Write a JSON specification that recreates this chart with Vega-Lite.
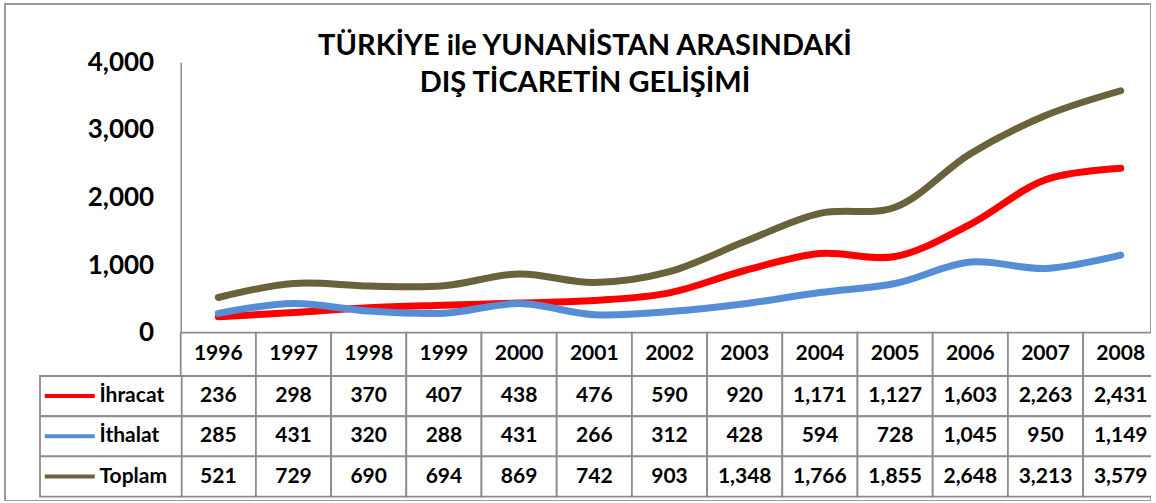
{
  "$schema": "https://vega.github.io/schema/vega-lite/v6.json",
  "autosize": "none",
  "padding": {"left": 5, "top": 4, "right": 0, "bottom": 0},
  "width": 1146,
  "height": 497,
  "background": "white",
  "config": {
    "view": {"stroke": "#9a9a9a", "strokeWidth": 2},
    "font": "Lato"
  },
  "title": {
    "text": ["TÜRKİYE ile YUNANİSTAN ARASINDAKİ", "DIŞ TİCARETİN GELİŞİMİ"],
    "font": "Lato",
    "fontWeight": "bold",
    "fontSize": 29,
    "lineHeight": 37,
    "color": "black",
    "anchor": "middle",
    "baseline": "top",
    "offset": -94,
    "dx": 7
  },
  "data": {
    "values": [
      {"year": "1996", "series": "İhracat", "value": 236},
      {"year": "1997", "series": "İhracat", "value": 298},
      {"year": "1998", "series": "İhracat", "value": 370},
      {"year": "1999", "series": "İhracat", "value": 407},
      {"year": "2000", "series": "İhracat", "value": 438},
      {"year": "2001", "series": "İhracat", "value": 476},
      {"year": "2002", "series": "İhracat", "value": 590},
      {"year": "2003", "series": "İhracat", "value": 920},
      {"year": "2004", "series": "İhracat", "value": 1171},
      {"year": "2005", "series": "İhracat", "value": 1127},
      {"year": "2006", "series": "İhracat", "value": 1603},
      {"year": "2007", "series": "İhracat", "value": 2263},
      {"year": "2008", "series": "İhracat", "value": 2431},
      {"year": "1996", "series": "İthalat", "value": 285},
      {"year": "1997", "series": "İthalat", "value": 431},
      {"year": "1998", "series": "İthalat", "value": 320},
      {"year": "1999", "series": "İthalat", "value": 288},
      {"year": "2000", "series": "İthalat", "value": 431},
      {"year": "2001", "series": "İthalat", "value": 266},
      {"year": "2002", "series": "İthalat", "value": 312},
      {"year": "2003", "series": "İthalat", "value": 428},
      {"year": "2004", "series": "İthalat", "value": 594},
      {"year": "2005", "series": "İthalat", "value": 728},
      {"year": "2006", "series": "İthalat", "value": 1045},
      {"year": "2007", "series": "İthalat", "value": 950},
      {"year": "2008", "series": "İthalat", "value": 1149},
      {"year": "1996", "series": "Toplam", "value": 521},
      {"year": "1997", "series": "Toplam", "value": 729},
      {"year": "1998", "series": "Toplam", "value": 690},
      {"year": "1999", "series": "Toplam", "value": 694},
      {"year": "2000", "series": "Toplam", "value": 869},
      {"year": "2001", "series": "Toplam", "value": 742},
      {"year": "2002", "series": "Toplam", "value": 903},
      {"year": "2003", "series": "Toplam", "value": 1348},
      {"year": "2004", "series": "Toplam", "value": 1766},
      {"year": "2005", "series": "Toplam", "value": 1855},
      {"year": "2006", "series": "Toplam", "value": 2648},
      {"year": "2007", "series": "Toplam", "value": 3213},
      {"year": "2008", "series": "Toplam", "value": 3579}
    ]
  },
  "layer": [
    {
      "transform": [{"filter": "datum.series === 'Toplam'"}],
      "mark": {"type": "rect", "fill": "white", "stroke": "#8c8c8c", "strokeWidth": 1.8, "clip": true},
      "encoding": {
        "x": {"field": "year", "type": "nominal", "axis": null,
              "scale": {"type": "band", "range": [175.7, 1153.3], "paddingInner": 0, "paddingOuter": 0}},
        "y": {"datum": "h", "type": "nominal", "axis": null,
              "scale": {"type": "band", "domain": ["h"], "range": [328.7, 372], "paddingInner": 0, "paddingOuter": 0}}
      }
    },
    {
      "transform": [{"filter": "datum.series === 'Toplam'"}],
      "mark": {"type": "text", "font": "Lato", "fontWeight": "bold", "fontSize": 21, "color": "black", "baseline": "middle", "align": "center", "clip": true},
      "encoding": {
        "x": {"field": "year", "type": "nominal", "axis": null,
              "scale": {"type": "band", "range": [175.7, 1153.3], "paddingInner": 0, "paddingOuter": 0}},
        "y": {"datum": "h", "type": "nominal", "axis": null,
              "scale": {"type": "band", "domain": ["h"], "range": [328.7, 372], "paddingInner": 0, "paddingOuter": 0}},
        "text": {"field": "year", "type": "nominal"}
      }
    },
    {
      "mark": {"type": "rect", "fill": "white", "stroke": "#8c8c8c", "strokeWidth": 1.8, "clip": true},
      "encoding": {
        "x": {"field": "year", "type": "nominal", "axis": null,
              "scale": {"type": "band", "range": [175.7, 1153.3], "paddingInner": 0, "paddingOuter": 0}},
        "y": {"field": "series", "type": "nominal", "axis": null,
              "scale": {"type": "band", "domain": ["İhracat", "İthalat", "Toplam"], "range": [372, 492.7], "paddingInner": 0, "paddingOuter": 0}}
      }
    },
    {
      "mark": {"type": "text", "font": "Lato", "fontWeight": "bold", "fontSize": 21, "color": "black", "baseline": "middle", "align": "center", "clip": true},
      "encoding": {
        "x": {"field": "year", "type": "nominal", "axis": null,
              "scale": {"type": "band", "range": [175.7, 1153.3], "paddingInner": 0, "paddingOuter": 0}},
        "y": {"field": "series", "type": "nominal", "axis": null,
              "scale": {"type": "band", "domain": ["İhracat", "İthalat", "Toplam"], "range": [372, 492.7], "paddingInner": 0, "paddingOuter": 0}},
        "text": {"field": "value", "type": "quantitative", "format": ",.0f"}
      }
    },
    {
      "transform": [{"filter": "datum.year === '1996'"}],
      "mark": {"type": "rect", "fill": "white", "stroke": "#8c8c8c", "strokeWidth": 1.8},
      "encoding": {
        "x": {"datum": "L", "type": "nominal", "axis": null,
              "scale": {"type": "band", "domain": ["L"], "range": [35, 176.7], "paddingInner": 0, "paddingOuter": 0}},
        "y": {"field": "series", "type": "nominal", "axis": null,
              "scale": {"type": "band", "domain": ["İhracat", "İthalat", "Toplam"], "range": [372, 492.7], "paddingInner": 0, "paddingOuter": 0}}
      }
    },
    {
      "transform": [{"filter": "datum.year === '1996'"}],
      "mark": {"type": "point", "shape": "M-1,0L1,0", "size": 2500, "strokeWidth": 4, "filled": false, "opacity": 1},
      "encoding": {
        "x": {"datum": "L", "type": "nominal", "axis": null, "bandPosition": 0.21,
              "scale": {"type": "band", "domain": ["L"], "range": [35, 176.7], "paddingInner": 0, "paddingOuter": 0}},
        "y": {"field": "series", "type": "nominal", "axis": null,
              "scale": {"type": "band", "domain": ["İhracat", "İthalat", "Toplam"], "range": [372, 492.7], "paddingInner": 0, "paddingOuter": 0}},
        "stroke": {"field": "series", "type": "nominal", "legend": null,
                   "scale": {"domain": ["İhracat", "İthalat", "Toplam"], "range": ["#FF0000", "#558ED5", "#6A623A"]}}
      }
    },
    {
      "transform": [{"filter": "datum.year === '1996'"}],
      "mark": {"type": "text", "font": "Lato", "fontWeight": "bold", "fontSize": 21, "color": "black", "baseline": "middle", "align": "left"},
      "encoding": {
        "x": {"datum": "L", "type": "nominal", "axis": null, "bandPosition": 0.42,
              "scale": {"type": "band", "domain": ["L"], "range": [35, 176.7], "paddingInner": 0, "paddingOuter": 0}},
        "y": {"field": "series", "type": "nominal", "axis": null,
              "scale": {"type": "band", "domain": ["İhracat", "İthalat", "Toplam"], "range": [372, 492.7], "paddingInner": 0, "paddingOuter": 0}},
        "text": {"field": "series", "type": "nominal"}
      }
    },
    {
      "mark": {"type": "line", "interpolate": "catmull-rom", "strokeWidth": 7, "strokeCap": "round", "strokeJoin": "round"},
      "encoding": {
        "x": {"field": "year", "type": "nominal", "axis": null, "bandPosition": 0.5,
              "scale": {"type": "band", "range": [175.7, 1153.3], "paddingInner": 0, "paddingOuter": 0}},
        "y": {"field": "value", "type": "quantitative",
              "scale": {"domain": [0, 4000], "range": [328.7, 58.3], "nice": false, "zero": true},
              "axis": {"offset": -175.7, "values": [0, 1000, 2000, 3000, 4000], "format": ",.0f", "title": null,
                       "grid": false, "ticks": false, "domainColor": "#8c8c8c", "domainWidth": 1.5,
                       "labelFont": "Lato", "labelFontWeight": "bold", "labelFontSize": 26, "labelColor": "black", "labelPadding": 27}},
        "color": {"field": "series", "type": "nominal", "legend": null,
                  "scale": {"domain": ["İhracat", "İthalat", "Toplam"], "range": ["#FF0000", "#558ED5", "#6A623A"]}}
      }
    }
  ],
  "resolve": {"scale": {"x": "independent", "y": "independent", "color": "independent"}}
}
